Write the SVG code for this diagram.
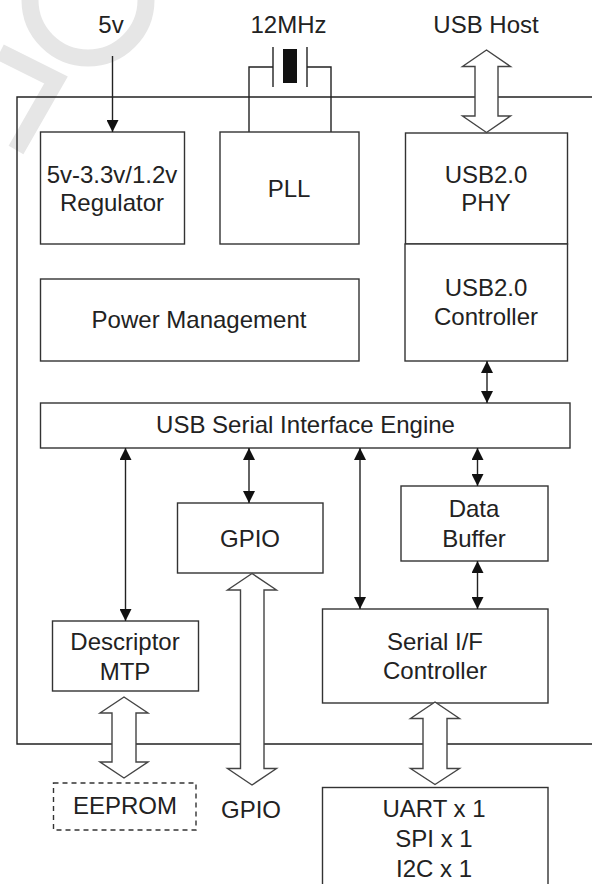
<svg xmlns="http://www.w3.org/2000/svg" width="592" height="884" viewBox="0 0 592 884">
<style>
  .box { fill: #fff; stroke: #333; stroke-width: 1.4; }
  .dash { fill: #fff; stroke: #333; stroke-width: 1.4; stroke-dasharray: 5 4; }
  .ln { fill: none; stroke: #222; stroke-width: 1.4; }
  .big { fill: #fff; stroke: #444; stroke-width: 1.4; stroke-linejoin: miter; }
  text { font-family: "Liberation Sans", Arial, sans-serif; font-size: 24px; fill: #222; text-anchor: middle; }
  .wm { fill: none; stroke: #e6e6e6; stroke-width: 17; stroke-linecap: butt; }
</style>
<defs>
  <marker id="ah" viewBox="0 0 10 10" refX="10" refY="5" markerWidth="12" markerHeight="12" markerUnits="userSpaceOnUse" orient="auto-start-reverse">
    <path d="M0,0 L10,5 L0,10 z" fill="#111"/>
  </marker>
</defs>
<rect x="0" y="0" width="592" height="884" fill="#fff"/>
<g id="watermark">
  <path class="wm" d="M30,0 A58,58 0 0 0 146,0"/>
  <path class="wm" d="M0,52 L56,80 L16,150"/>
</g>
<g id="frame">
  <polyline class="ln" points="600,97 17,97 17,744 600,744"/>
</g>
<g id="crystal">
  <polyline class="ln" points="249,132 249,67 273,67"/>
  <polyline class="ln" points="331,132 331,67 307,67"/>
  <line class="ln" x1="273" y1="47" x2="273" y2="87"/>
  <line class="ln" x1="307" y1="47" x2="307" y2="87"/>
  <rect x="283" y="49" width="14" height="34" fill="#111"/>
</g>
<g id="labels">
  <text x="111" y="33">5v</text>
  <text x="288.5" y="33">12MHz</text>
  <text x="486" y="33">USB Host</text>
</g>
<g id="regulator">
  <rect class="box" x="40.5" y="132" width="144" height="112"/>
  <text x="112" y="183">5v-3.3v/1.2v</text>
  <text x="112" y="211">Regulator</text>
</g>
<g id="pll">
  <rect class="box" x="220" y="132" width="139" height="112"/>
  <text x="289" y="197">PLL</text>
</g>
<g id="phy">
  <rect class="box" x="405.5" y="133" width="162" height="111"/>
  <text x="486" y="183">USB2.0</text>
  <text x="486" y="211">PHY</text>
</g>
<g id="controller">
  <rect class="box" x="405" y="244" width="162.5" height="117"/>
  <text x="486" y="296">USB2.0</text>
  <text x="486" y="325">Controller</text>
</g>
<g id="power">
  <rect class="box" x="40.5" y="279" width="318.5" height="82"/>
  <text x="199" y="328">Power Management</text>
</g>
<g id="sie">
  <rect class="box" x="40.5" y="403" width="529.5" height="45"/>
  <text x="305.5" y="433">USB Serial Interface Engine</text>
</g>
<g id="gpio">
  <rect class="box" x="177.5" y="503" width="145.5" height="70"/>
  <text x="250" y="547">GPIO</text>
</g>
<g id="buffer">
  <rect class="box" x="401" y="486" width="147" height="75"/>
  <text x="474" y="517">Data</text>
  <text x="474" y="547">Buffer</text>
</g>
<g id="descriptor">
  <rect class="box" x="52.5" y="621" width="146" height="70"/>
  <text x="125" y="650">Descriptor</text>
  <text x="125" y="680">MTP</text>
</g>
<g id="serial">
  <rect class="box" x="322.5" y="609" width="225.5" height="94"/>
  <text x="435" y="650">Serial I/F</text>
  <text x="435" y="679">Controller</text>
</g>
<g id="eeprom">
  <rect class="dash" x="53.5" y="783" width="142.5" height="47"/>
  <text x="125" y="814">EEPROM</text>
</g>
<g id="gpio-out">
  <text x="251" y="818">GPIO</text>
</g>
<g id="uart">
  <rect class="box" x="322.5" y="787.5" width="225.5" height="110"/>
  <text x="434" y="817">UART x 1</text>
  <text x="434" y="847">SPI x 1</text>
  <text x="434" y="877">I2C x 1</text>
</g>
<g id="connectors">
  <line class="ln" x1="112.5" y1="56" x2="112.5" y2="132" marker-end="url(#ah)"/>
  <line class="ln" x1="487" y1="361" x2="487" y2="403" marker-start="url(#ah)" marker-end="url(#ah)"/>
  <line class="ln" x1="125.5" y1="448" x2="125.5" y2="621" marker-start="url(#ah)" marker-end="url(#ah)"/>
  <line class="ln" x1="249" y1="448" x2="249" y2="503" marker-start="url(#ah)" marker-end="url(#ah)"/>
  <line class="ln" x1="360" y1="448" x2="360" y2="609" marker-start="url(#ah)" marker-end="url(#ah)"/>
  <line class="ln" x1="477.5" y1="448" x2="477.5" y2="486" marker-start="url(#ah)" marker-end="url(#ah)"/>
  <line class="ln" x1="477.5" y1="561" x2="477.5" y2="609" marker-start="url(#ah)" marker-end="url(#ah)"/>
  <polygon class="big" points="486.5,50 510.5,66.5 498,66.5 498,116 510.5,116 486.5,132.5 462.5,116 475,116 475,66.5 462.5,66.5"/>
  <polygon class="big" points="124,697 148,713 136,713 136,762 148,762 124,778 100,762 112,762 112,713 100,713"/>
  <polygon class="big" points="252,573.5 276.5,590 264,590 264,768.5 276.5,768.5 252,785 227.5,768.5 240.5,768.5 240.5,590 227.5,590"/>
  <polygon class="big" points="435,702 459.5,718.5 447,718.5 447,768.5 459.5,768.5 435,784.5 410.5,768.5 423,768.5 423,718.5 410.5,718.5"/>
</g>
</svg>
